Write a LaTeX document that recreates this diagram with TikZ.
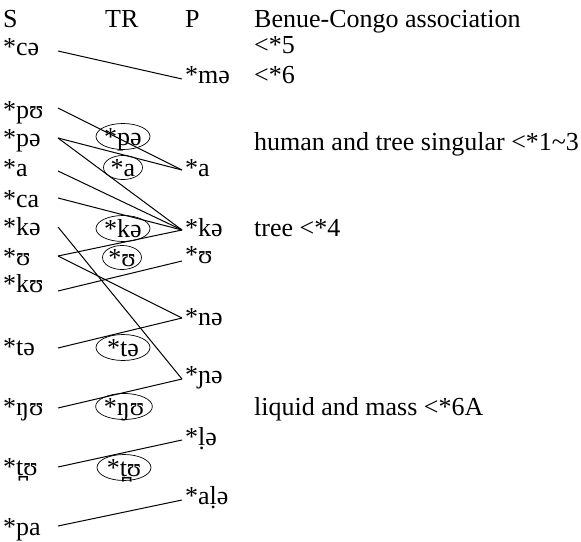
\documentclass[tikz,border=0pt]{standalone}
\usepackage{fontspec}
\setmainfont{Liberation Serif}
\usetikzlibrary{shapes.geometric}
\begin{document}
\begin{tikzpicture}[x=1pt,y=-1pt,
  lbl/.style={anchor=base west,inner sep=0pt,font=\fontsize{26}{30}\selectfont},
  trell/.style={ellipse,draw,line width=0.7pt,inner sep=0pt,anchor=base,
    font=\fontsize{26}{30}\selectfont,text height=17pt,text depth=0pt,
    minimum width=54pt,minimum height=26pt},
  trsmall/.style={trell,minimum width=39pt,minimum height=24pt},
  conn/.style={line width=1pt}]
\useasboundingbox (0,0) rectangle (581,541);
% headers
\node[lbl] (hS) at (3,27) {S};
\node[lbl] (hTR) at (105,27) {TR};
\node[lbl] (hP) at (185,27) {P};
\node[lbl] (hBC) at (254,27) {Benue-Congo association};
% right labels
\node[lbl] (r5) at (254,53) {<*5};
\node[lbl] (r6) at (254,83) {<*6};
\node[lbl] (rht) at (254,150) {human and tree singular <*1\textasciitilde 3};
\node[lbl] (rtree) at (254,236) {tree <*4};
\node[lbl] (rliq) at (254,415) {liquid and mass <*6A};
% S column
\node[lbl] (sce) at (3,55) {*cə};
\node[lbl] (spu) at (3,118) {*pʊ};
\node[lbl] (spe) at (3,146) {*pə};
\node[lbl] (sa) at (3,176) {*a};
\node[lbl] (sca) at (3,207) {*ca};
\node[lbl] (ske) at (3,235) {*kə};
\node[lbl] (su) at (3,265) {*ʊ};
\node[lbl] (sku) at (3,292) {*kʊ};
\node[lbl] (ste) at (3,355) {*tə};
\node[lbl] (sngu) at (3,415) {*ŋʊ};
\node[lbl] (stu) at (3,475) {*t̪ʊ};
\node[lbl] (spa) at (3,535) {*pa};
% P column
\node[lbl] (pme) at (185,83) {*mə};
\node[lbl] (pa) at (185,176) {*a};
\node[lbl] (pke) at (185,236) {*kə};
\node[lbl] (pu) at (185,263) {*ʊ};
\node[lbl] (pne) at (185,325) {*nə};
\node[lbl] (pnje) at (185,383) {*ɲə};
\node[lbl] (ple) at (185,445) {*ḷə};
\node[lbl] (pale) at (185,504) {*aḷə};
% TR ellipses
\node[trell] (tpe) at (123,145) {*pə};
\node[trsmall] (ta) at (123,176) {*a};
\node[trell] (tke) at (123,237) {*kə};
\node[trsmall] (tu) at (122,266) {*ʊ};
\node[trell] (tte) at (123,356) {*tə};
\node[trell] (tngu) at (124,415) {*ŋʊ};
\node[trell] (ttu) at (124,476) {*t̪ʊ};
% connector ends
\coordinate (Lce) at (58,51);
\coordinate (Lpu) at (58,108);
\coordinate (Lpe) at (58,138);
\coordinate (La) at (58,171);
\coordinate (Lca) at (58,198);
\coordinate (Lke) at (58,227);
\coordinate (Lu) at (58,256);
\coordinate (Lku) at (58,291);
\coordinate (Lte) at (58,348);
\coordinate (Lngu) at (58,408);
\coordinate (Ltu) at (58,467);
\coordinate (Lpa) at (58,526);
\coordinate (Rme) at (182,79);
\coordinate (Ra) at (182,170);
\coordinate (Rke) at (182,230);
\coordinate (Ru) at (182,261);
\coordinate (Rne) at (182,318);
\coordinate (Rnje) at (182,379);
\coordinate (Rle) at (182,440);
\coordinate (Rale) at (182,500);
% connectors
\draw[conn] (Lce) -- (Rme);
\draw[conn] (Lpu) -- (Ra);
\draw[conn] (Lpe) -- (Ra);
\draw[conn] (Lpe) -- (Rke);
\draw[conn] (La) -- (Rke);
\draw[conn] (Lca) -- (Rke);
\draw[conn] (Lke) -- (Rnje);
\draw[conn] (Lu) -- (Rke);
\draw[conn] (Lu) -- (Rne);
\draw[conn] (Lku) -- (Ru);
\draw[conn] (Lte) -- (Rne);
\draw[conn] (Lngu) -- (Rnje);
\draw[conn] (Ltu) -- (Rle);
\draw[conn] (Lpa) -- (Rale);
\end{tikzpicture}
\end{document}
